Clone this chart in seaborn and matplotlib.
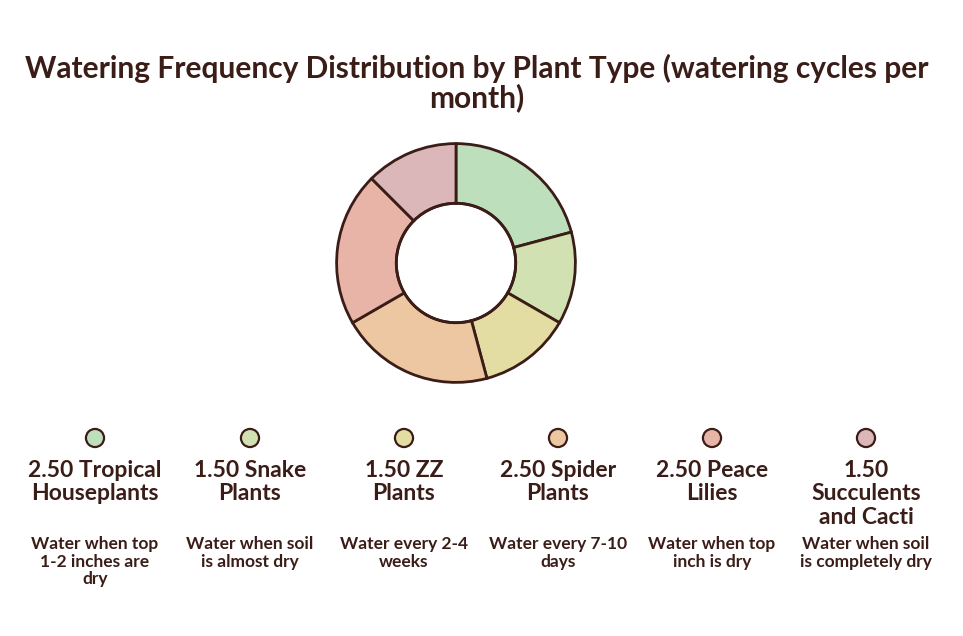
#!/usr/bin/env python3
# coding=utf-8
import textwrap
import matplotlib
matplotlib.use('Agg')
import matplotlib.pyplot as plt
import pandas as pd
import seaborn as sns

# chart data
plants = ['Tropical Houseplants', 'Snake Plants', 'ZZ Plants', 'Spider Plants',
          'Peace Lilies', 'Succulents and Cacti']
cycles = [2.5, 1.5, 1.5, 2.5, 2.5, 1.5]
notes = ['Water when top 1-2 inches are dry', 'Water when soil is almost dry',
         'Water every 2-4 weeks', 'Water every 7-10 days',
         'Water when top inch is dry', 'Water when soil is completely dry']
colors = ['#bddfbc', '#d2e1b2', '#e3dca3', '#edc6a2', '#e7b4a7', '#dcb7ba']
title = 'Watering Frequency Distribution by Plant Type (watering cycles per\nmonth)'

ink = '#3b1d18'

sns.set_theme(style='white')
plt.rcParams['font.family'] = ['Lato', 'DejaVu Sans']

fig = plt.figure(figsize=(9.63, 6.36), dpi=100)

# donut
ax = fig.add_axes([336 / 963, (636 - 383) / 636, 240 / 963, 240 / 636])
ax.pie(cycles, colors=sns.color_palette(colors), startangle=90, counterclock=False,
       radius=1.0, wedgeprops=dict(width=0.5, edgecolor=ink, linewidth=2))
ax.add_patch(plt.Circle((0, 0), 0.5, fill=False, edgecolor=ink, linewidth=2))
ax.set_xlim(-1.005, 1.005)
ax.set_ylim(-1.005, 1.005)
ax.set_aspect('equal')
ax.axis('off')

# overlay for title and legend, in pixel coords
ov = fig.add_axes([0, 0, 1, 1])
ov.set_xlim(0, 963)
ov.set_ylim(636, 0)
ov.axis('off')

ov.text(477, 54, title, ha='center', va='top', fontsize=21.5, fontweight='bold',
        color=ink, linespacing=1.02)

xs = [95, 250, 404, 558, 712, 866]
leg = pd.DataFrame({'x': xs, 'y': [438] * 6, 'plant': plants})
sns.scatterplot(data=leg, x='x', y='y', hue='plant', palette=colors, s=170,
                edgecolor=ink, linewidth=1.6, legend=False, ax=ov, zorder=3)
ov.set_xlim(0, 963)
ov.set_ylim(636, 0)

for x, p, v, n in zip(xs, plants, cycles, notes):
    lab = textwrap.fill('{:.2f} {}'.format(v, p), 13)
    ov.text(x, 460, lab, ha='center', va='top', fontsize=16.5, fontweight='bold',
            color=ink, linespacing=1.14)
    ov.text(x, 536, textwrap.fill(n, 17), ha='center', va='top', fontsize=12.5,
            fontweight='bold', color=ink, linespacing=1.12)

fig.savefig('out.png', dpi=100, facecolor='white')
